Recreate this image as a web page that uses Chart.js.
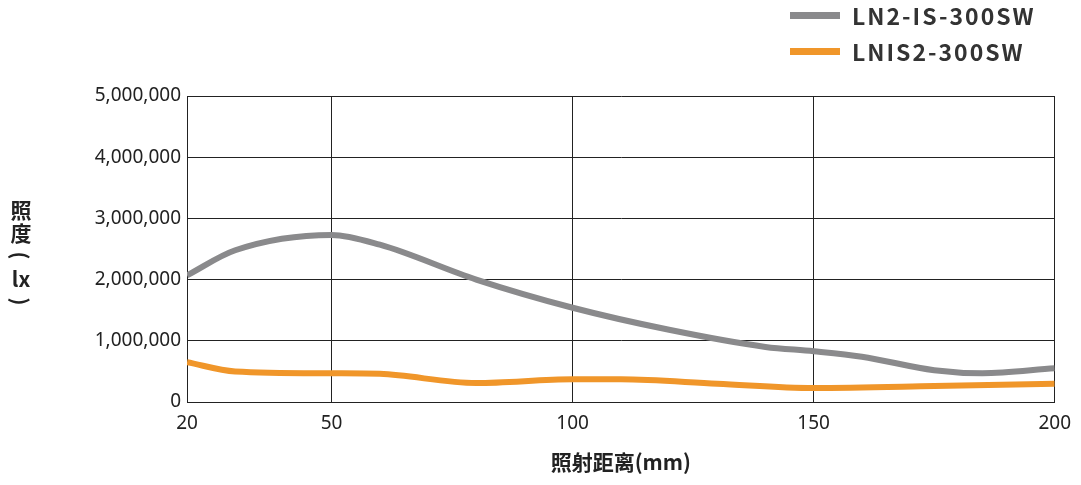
<!DOCTYPE html>
<html><head><meta charset="utf-8">
<script src="https://cdn.jsdelivr.net/npm/chart.js@4"></script>
<style>
body{margin:0;background:#fff;font-family:"Noto Sans CJK JP","Noto Sans",sans-serif}
#wrap{position:relative;width:1081px;height:485px}
#legend{position:absolute;left:790px;top:0px;font-size:23px;font-weight:bold;color:#333;letter-spacing:2px}
#legend div{height:42px;display:flex;align-items:center;margin-top:-6px}
#legend span{display:inline-block;width:50px;height:7px;margin-right:12px}
#ytitle{position:absolute;left:8px;top:198px;width:26px;font-size:21px;font-weight:bold;color:#222;line-height:23px;text-align:center}
</style></head><body>
<div id="wrap">
<canvas id="plotCanvas" width="1081" height="485"></canvas>
<div id="legend"><div><span style="background:#8a8a8c"></span>LN2-IS-300SW</div><div><span style="background:#f0962a"></span>LNIS2-300SW</div></div>
<div id="ytitle">照<br>度<br><span style="display:inline-block;transform:rotate(90deg)">(</span><br>lx<br><span style="display:inline-block;transform:rotate(90deg)">)</span></div>
</div>
<script>
const distances = [20, 30, 50, 60, 80, 100, 120, 140, 150, 160, 175, 185, 200];
const grayValues = [2070000, 2480000, 2730000, 2570000, 2000000, 1540000, 1180000, 900000, 830000, 740000, 520000, 470000, 550000];
const orangeDist = [20, 30, 50, 60, 80, 100, 110, 130, 150, 175, 200];
const orangeValues = [650000, 500000, 470000, 460000, 310000, 370000, 370000, 300000, 230000, 260000, 300000];
const xTicks = [20, 50, 100, 150, 200];

const ctx = document.getElementById("plotCanvas");
const chart = new Chart(ctx, {
    type: 'line',
    data: {
        datasets: [{
            data: distances.map((d, i) => ({x: d, y: grayValues[i]})),
            borderColor: '#8a8a8c', borderWidth: 6, pointRadius: 0, cubicInterpolationMode: 'monotone'
        }, {
            data: orangeDist.map((d, i) => ({x: d, y: orangeValues[i]})),
            borderColor: '#f0962a', borderWidth: 6, pointRadius: 0, cubicInterpolationMode: 'monotone'
        }]
    },
    options: {
        responsive: false, animation: false,
        layout: {padding: {top: 96, right: 24, left: 0, bottom: 6}},
        plugins: {legend: {display: false}, tooltip: {enabled: false}},
        scales: {
            x: {
                type: 'linear', min: 20, max: 200,
                afterBuildTicks: s => { s.ticks = xTicks.map(v => ({value: v})); },
                afterFit: s => { s.height = 77; },
                grid: {color: '#222', lineWidth: 1, drawTicks: false},
                border: {color: '#222'},
                ticks: {color: '#222', font: {size: 19, family: 'Noto Sans'}, padding: 10},
                title: {display: true, text: '照射距离(mm)', color: '#222', font: {size: 21, weight: 'bold', family: 'Noto Sans CJK SC'}, padding: {top: 4}}
            },
            y: {
                min: 0, max: 5000000,
                afterFit: s => { s.width = 187; },
                grid: {color: '#222', lineWidth: 1, drawTicks: false},
                border: {color: '#222'},
                ticks: {stepSize: 1000000, color: '#222', font: {size: 19, family: 'Noto Sans'}, padding: 6,
                    callback: v => v.toLocaleString('en-US')}
            }
        }
    }
});
</script>
</body></html>
